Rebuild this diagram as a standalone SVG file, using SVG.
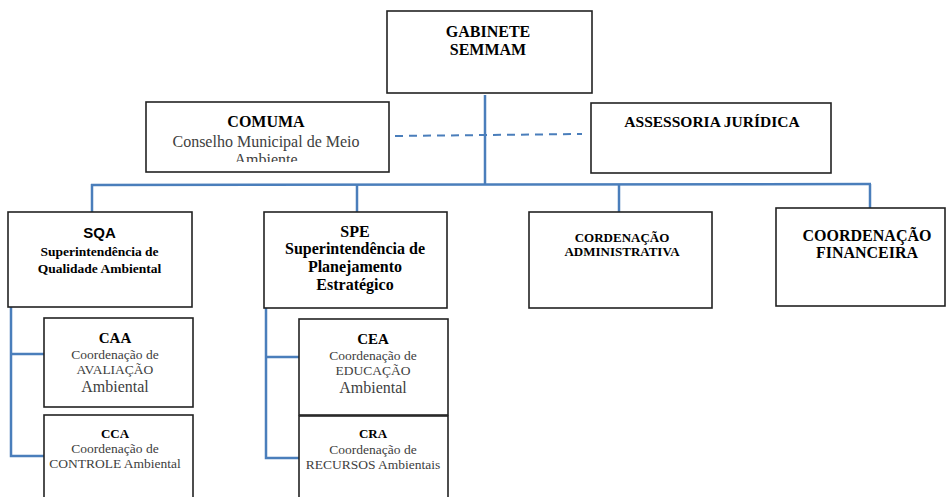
<svg xmlns="http://www.w3.org/2000/svg" width="947" height="497" viewBox="0 0 947 497">
<style>
.box{fill:#fff;stroke:#222;stroke-width:1.6}
.ln{fill:none;stroke:#4a7ebb;stroke-width:2.5}
.dash{fill:none;stroke:#4a7ebb;stroke-width:2;stroke-dasharray:8 6}
text{font-family:"Liberation Serif","Times New Roman",serif;text-anchor:middle}
.b{font-weight:bold;fill:#000}
.r{fill:#404040}
.s{font-family:"Liberation Sans",Arial,sans-serif;font-weight:bold;fill:#000}
</style>
<defs>
<clipPath id="clipCom"><rect x="146" y="103" width="242" height="59"/></clipPath>
</defs>
<g id="connectors">
<line class="ln" x1="485" y1="95" x2="485" y2="184"/>
<line class="ln" x1="91" y1="185" x2="871" y2="184"/>
<line class="ln" x1="92" y1="184" x2="92" y2="212"/>
<line class="ln" x1="357" y1="184" x2="357" y2="212"/>
<line class="ln" x1="619" y1="184" x2="619" y2="212"/>
<line class="ln" x1="870" y1="184" x2="870" y2="208"/>
<line class="dash" x1="395" y1="136" x2="582" y2="134"/>
<polyline class="ln" points="11,307 11,456 46,456"/>
<line class="ln" x1="11" y1="354" x2="44" y2="354"/>
<polyline class="ln" points="266,308 266,458 301,458"/>
<line class="ln" x1="266" y1="357" x2="299" y2="357"/>
</g>
<g id="gabinete">
<rect class="box" x="387" y="11" width="205" height="82"/>
<text class="b" x="488" y="37" font-size="16">GABINETE</text>
<text class="b" x="488" y="55" font-size="16">SEMMAM</text>
</g>
<g id="comuma">
<rect class="box" x="146" y="102" width="243" height="70"/>
<text class="b" x="266" y="127" font-size="16">COMUMA</text>
<g clip-path="url(#clipCom)">
<text class="r" x="266" y="147" font-size="16">Conselho Municipal de Meio</text>
<text class="r" x="266" y="164.5" font-size="16">Ambiente</text>
</g>
</g>
<g id="assessoria">
<rect class="box" x="591" y="103" width="240" height="70"/>
<text class="b" x="712" y="127" font-size="15.5">ASSESSORIA JURÍDICA</text>
</g>
<g id="sqa">
<rect class="box" x="8" y="212" width="184" height="95"/>
<text class="s" x="99.5" y="238" font-size="15">SQA</text>
<text class="b" x="99.5" y="256" font-size="13.5">Superintendência de</text>
<text class="b" x="99.5" y="273" font-size="13.5">Qualidade Ambiental</text>
</g>
<g id="spe">
<rect class="box" x="264" y="212" width="183" height="96"/>
<text class="b" x="355" y="237" font-size="16">SPE</text>
<text class="b" x="355" y="254" font-size="16">Superintendência de</text>
<text class="b" x="355" y="272" font-size="16">Planejamento</text>
<text class="b" x="355" y="290" font-size="16">Estratégico</text>
</g>
<g id="cordenacao-adm">
<rect class="box" x="529" y="212" width="183" height="96"/>
<text class="b" x="622" y="242" font-size="13">CORDENAÇÃO</text>
<text class="b" x="622" y="256" font-size="13">ADMINISTRATIVA</text>
</g>
<g id="coordenacao-fin">
<rect class="box" x="776" y="208" width="169" height="98"/>
<text class="b" x="867" y="241" font-size="16">COORDENAÇÃO</text>
<text class="b" x="867" y="258" font-size="16">FINANCEIRA</text>
</g>
<g id="caa">
<rect class="box" x="44" y="318" width="149" height="89"/>
<text class="b" x="115" y="343" font-size="15">CAA</text>
<text class="r" x="115" y="359" font-size="13.5">Coordenação de</text>
<text class="r" x="115" y="374" font-size="13.5">AVALIAÇÃO</text>
<text class="r" x="115" y="392" font-size="16">Ambiental</text>
</g>
<g id="cca">
<rect class="box" x="44" y="415" width="149" height="100"/>
<text class="b" x="115" y="438" font-size="13">CCA</text>
<text class="r" x="115" y="453" font-size="13.5">Coordenação de</text>
<text class="r" x="115" y="468" font-size="13.5">CONTROLE Ambiental</text>
</g>
<g id="cea">
<rect class="box" x="299" y="319" width="149" height="96"/>
<text class="b" x="373" y="344" font-size="15">CEA</text>
<text class="r" x="373" y="360" font-size="13.5">Coordenação de</text>
<text class="r" x="373" y="375" font-size="13.5">EDUCAÇÃO</text>
<text class="r" x="373" y="393" font-size="16">Ambiental</text>
</g>
<g id="cra">
<rect class="box" x="299" y="416" width="149" height="100"/>
<text class="b" x="373" y="438" font-size="13">CRA</text>
<text class="r" x="373" y="454" font-size="13.5">Coordenação de</text>
<text class="r" x="373" y="469" font-size="13.5">RECURSOS Ambientais</text>
</g>
</svg>
